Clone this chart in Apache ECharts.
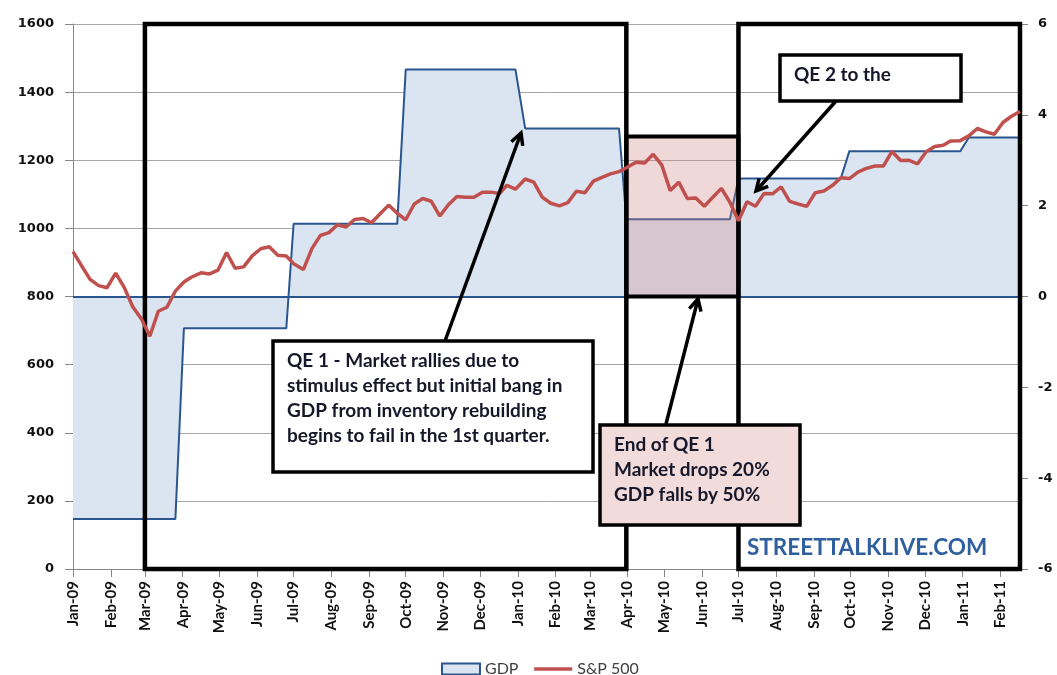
<!DOCTYPE html>
<html>
<head>
<meta charset="utf-8">
<title>GDP vs S&amp;P 500</title>
<script src="https://cdn.jsdelivr.net/npm/echarts@6/dist/echarts.min.js"></script>
<style>
  html, body { margin: 0; padding: 0; background: #fff; }
  #chart { width: 1057px; height: 675px; }
</style>
</head>
<body>
<div id="chart"></div>
<script>
// Weekly closing dates
const weeks = [
  '2009-01-02','2009-01-09','2009-01-16','2009-01-23','2009-01-30',
  '2009-02-06','2009-02-13','2009-02-20','2009-02-27',
  '2009-03-06','2009-03-13','2009-03-20','2009-03-27',
  '2009-04-03','2009-04-09','2009-04-17','2009-04-24',
  '2009-05-01','2009-05-08','2009-05-15','2009-05-22','2009-05-29',
  '2009-06-05','2009-06-12','2009-06-19','2009-06-26',
  '2009-07-02','2009-07-10','2009-07-17','2009-07-24','2009-07-31',
  '2009-08-07','2009-08-14','2009-08-21','2009-08-28',
  '2009-09-04','2009-09-11','2009-09-18','2009-09-25',
  '2009-10-02','2009-10-09','2009-10-16','2009-10-23','2009-10-30',
  '2009-11-06','2009-11-13','2009-11-20','2009-11-27',
  '2009-12-04','2009-12-11','2009-12-18','2009-12-24','2009-12-31',
  '2010-01-08','2010-01-15','2010-01-22','2010-01-29',
  '2010-02-05','2010-02-12','2010-02-19','2010-02-26',
  '2010-03-05','2010-03-12','2010-03-19','2010-03-26',
  '2010-04-01','2010-04-09','2010-04-16','2010-04-23','2010-04-30',
  '2010-05-07','2010-05-14','2010-05-21','2010-05-28',
  '2010-06-04','2010-06-11','2010-06-18','2010-06-25',
  '2010-07-02','2010-07-09','2010-07-16','2010-07-23','2010-07-30',
  '2010-08-06','2010-08-13','2010-08-20','2010-08-27',
  '2010-09-03','2010-09-10','2010-09-17','2010-09-24',
  '2010-10-01','2010-10-08','2010-10-15','2010-10-22','2010-10-29',
  '2010-11-05','2010-11-12','2010-11-19','2010-11-26',
  '2010-12-03','2010-12-10','2010-12-17','2010-12-23','2010-12-31',
  '2011-01-07','2011-01-14','2011-01-21','2011-01-28',
  '2011-02-04','2011-02-11','2011-02-18'
];

// S&P 500 weekly close (left axis)
const spx = [
  931.8, 890.4, 850.1, 832.0, 825.9,
  868.6, 826.8, 770.1, 735.1,
  683.4, 756.6, 768.5, 815.9,
  842.5, 856.6, 869.6, 866.2,
  877.5, 929.2, 882.9, 887.0, 919.1,
  940.1, 946.2, 921.2, 918.9,
  896.4, 879.1, 940.4, 979.3, 987.5,
  1010.5, 1004.1, 1026.1, 1028.9,
  1016.4, 1042.7, 1068.3, 1044.4,
  1025.2, 1071.5, 1087.7, 1079.6, 1036.2,
  1069.3, 1093.5, 1091.4, 1091.5,
  1106.0, 1106.4, 1102.5, 1126.5, 1115.1,
  1145.0, 1136.0, 1091.8, 1073.9,
  1066.2, 1075.5, 1109.2, 1104.5,
  1138.7, 1150.0, 1159.9, 1166.6,
  1178.1, 1194.4, 1192.1, 1217.3, 1186.7,
  1110.9, 1135.7, 1087.7, 1089.4,
  1064.9, 1091.6, 1117.5, 1076.8,
  1022.6, 1078.0, 1064.9, 1102.7, 1101.6,
  1121.6, 1079.3, 1071.7, 1064.6,
  1104.5, 1109.6, 1125.6, 1148.7,
  1146.2, 1165.2, 1176.2, 1183.1, 1183.3,
  1225.9, 1199.2, 1199.7, 1189.4,
  1224.7, 1240.4, 1243.9, 1256.8, 1257.6,
  1271.5, 1293.2, 1283.4, 1276.3,
  1310.9, 1329.2, 1343.0
];

// Real GDP growth, % annualized, latest quarterly print held each week (right axis)
const gdp = [
  -4.9, -4.9, -4.9, -4.9, -4.9,
  -4.9, -4.9, -4.9, -4.9,
  -4.9, -4.9, -4.9, -4.9,
  -0.7, -0.7, -0.7, -0.7,
  -0.7, -0.7, -0.7, -0.7, -0.7,
  -0.7, -0.7, -0.7, -0.7,
  1.6, 1.6, 1.6, 1.6, 1.6,
  1.6, 1.6, 1.6, 1.6,
  1.6, 1.6, 1.6, 1.6,
  5.0, 5.0, 5.0, 5.0, 5.0,
  5.0, 5.0, 5.0, 5.0,
  5.0, 5.0, 5.0, 5.0, 5.0,
  3.7, 3.7, 3.7, 3.7,
  3.7, 3.7, 3.7, 3.7,
  3.7, 3.7, 3.7, 3.7,
  1.7, 1.7, 1.7, 1.7, 1.7,
  1.7, 1.7, 1.7, 1.7,
  1.7, 1.7, 1.7, 1.7,
  2.6, 2.6, 2.6, 2.6, 2.6,
  2.6, 2.6, 2.6, 2.6,
  2.6, 2.6, 2.6, 2.6,
  3.2, 3.2, 3.2, 3.2, 3.2,
  3.2, 3.2, 3.2, 3.2,
  3.2, 3.2, 3.2, 3.2, 3.2,
  3.5, 3.5, 3.5, 3.5,
  3.5, 3.5, 3.5
];

const monthNames = ['Jan','Feb','Mar','Apr','May','Jun','Jul','Aug','Sep','Oct','Nov','Dec'];
const leftTicks = { min: 0, max: 1600, step: 200 };
const rightTicks = { min: -6, max: 6, step: 2 };

// Shaded periods: [start, end, top, bottom] in S&P terms
const qe1Period = ['2009-03-02', '2010-04-01', 1600, 0];
const qe1EndPeriod = ['2010-04-01', '2010-07-02', 1270, 800];
const qe2Period = ['2010-07-02', '2011-02-18', 1600, 0];

// Daily date axis from first to last weekly close
const days = [];
for (let t = Date.UTC(2009, 0, 2); t <= Date.UTC(2011, 1, 18); t += 86400000) {
  days.push(new Date(t).toISOString().slice(0, 10));
}
const isTickDay = (i, v) => v.slice(8) === '02';
const monthLabel = v => monthNames[+v.slice(5, 7) - 1] + '-' + v.slice(2, 4);

const gdpLine = '#2a568f';
const gdpFill = '#dbe5f1';
const spxColor = '#c0504d';
const textColor = '#17172a';
const boxFont = 'bold 19px Lato';

function arrow(x1, y1, x2, y2) {
  const L = Math.hypot(x2 - x1, y2 - y1);
  const bx = (x1 - x2) / L, by = (y1 - y2) / L;
  const head = 13, a = Math.PI / 6.5;
  const rot = s => [x2 + head * (bx * Math.cos(s * a) - by * Math.sin(s * a)),
                    y2 + head * (bx * Math.sin(s * a) + by * Math.cos(s * a))];
  return [
    { type: 'line', z: 120, shape: { x1, y1, x2, y2 }, style: { stroke: '#000', lineWidth: 3.5 } },
    { type: 'polyline', z: 120, shape: { points: [rot(1), [x2, y2], rot(-1)] },
      style: { stroke: '#000', lineWidth: 3.5, fill: null, lineJoin: 'miter' } }
  ];
}

function textBox(x, y, w, h, fill, lines, tx, ty, lh) {
  return [
    { type: 'rect', z: 110, shape: { x, y, width: w, height: h },
      style: { fill, stroke: '#000', lineWidth: 3.5 } },
    { type: 'text', z: 111, x: tx, y: ty,
      style: { text: lines.join('\n'), font: boxFont, fill: textColor, lineHeight: lh, verticalAlign: 'top' } }
  ];
}

const chart = echarts.init(document.getElementById('chart'), null, { renderer: 'canvas' });

chart.setOption({
  animation: false,
  backgroundColor: '#fff',
  grid: { left: 73, right: 37, top: 24, bottom: 106, containLabel: false },
  legend: {
    left: 441, top: 661, padding: 0, itemGap: 14,
    itemWidth: 38, itemHeight: 11,
    textStyle: { fontFamily: 'Lato', fontSize: 16, color: '#404040' },
    data: [
      { name: 'GDP', icon: 'rect', itemStyle: { color: gdpFill, borderColor: gdpLine, borderWidth: 2 } },
      { name: 'S&P 500', itemStyle: { color: 'rgba(0,0,0,0)', borderColor: 'rgba(0,0,0,0)', borderWidth: 0 },
        lineStyle: { color: spxColor, width: 3.5 } }
    ]
  },
  xAxis: {
    type: 'category',
    data: days,
    boundaryGap: false,
    axisLine: { lineStyle: { color: '#868686', width: 1 } },
    axisTick: { interval: isTickDay, length: 8, lineStyle: { color: '#868686' } },
    axisLabel: {
      interval: isTickDay, formatter: monthLabel, rotate: 90, margin: 12,
      fontFamily: 'Lato', fontWeight: 'bold', fontSize: 15, color: '#111'
    },
    splitLine: { show: false }
  },
  yAxis: [
    {
      type: 'value', min: leftTicks.min, max: leftTicks.max, interval: leftTicks.step,
      axisLine: { show: true, lineStyle: { color: '#868686' } },
      axisTick: { show: true, length: 8, lineStyle: { color: '#868686' } },
      axisLabel: { margin: 19, formatter: v => String(v),
        fontFamily: 'DejaVu Sans', fontWeight: 'bold', fontSize: 13, color: '#111' },
      splitLine: { show: true, lineStyle: { color: '#a6a6a6', width: 1 } }
    },
    {
      type: 'value', min: rightTicks.min, max: rightTicks.max, interval: rightTicks.step,
      position: 'right',
      axisLine: { show: true, lineStyle: { color: '#868686' } },
      axisTick: { show: true, length: 8, lineStyle: { color: '#868686' } },
      axisLabel: { margin: 18, formatter: v => String(v),
        fontFamily: 'DejaVu Sans', fontWeight: 'bold', fontSize: 13, color: '#111' },
      splitLine: { show: false }
    }
  ],
  series: [
    {
      name: 'GDP',
      type: 'line',
      yAxisIndex: 1,
      z: 1,
      symbol: 'none',
      data: weeks.map((d, i) => [d, gdp[i]]),
      lineStyle: { color: gdpLine, width: 2 },
      itemStyle: { color: gdpLine },
      areaStyle: { color: gdpFill, opacity: 1 },
      markLine: {
        z: 1.5, silent: true, symbol: 'none', label: { show: false },
        lineStyle: { color: gdpLine, width: 2, type: 'solid' },
        data: [{ yAxis: 0 }]
      }
    },
    {
      name: 'S&P 500',
      type: 'line',
      yAxisIndex: 0,
      z: 3,
      clip: false,
      symbol: 'none',
      data: weeks.map((d, i) => [d, spx[i]]),
      lineStyle: { color: spxColor, width: 3.5 },
      itemStyle: { color: spxColor },
      markArea: {
        z: 2, silent: true, label: { show: false },
        data: [
          [{ xAxis: qe1EndPeriod[0], yAxis: qe1EndPeriod[2],
             itemStyle: { color: 'rgba(206,128,128,0.31)', borderColor: '#000', borderWidth: 4 } },
           { xAxis: qe1EndPeriod[1], yAxis: qe1EndPeriod[3] }],
          [{ xAxis: qe1Period[0], yAxis: qe1Period[2],
             itemStyle: { color: 'rgba(0,0,0,0)', borderColor: '#000', borderWidth: 4.5 } },
           { xAxis: qe1Period[1], yAxis: qe1Period[3] }],
          [{ xAxis: qe2Period[0], yAxis: qe2Period[2],
             itemStyle: { color: 'rgba(0,0,0,0)', borderColor: '#000', borderWidth: 4.5 } },
           { xAxis: qe2Period[1], yAxis: qe2Period[3] }]
        ]
      }
    }
  ],
  graphic: [
    ...arrow(445, 341, 521, 133),
    ...arrow(666, 424, 698, 299),
    ...arrow(836, 101, 756, 191),
    ...textBox(273, 341, 320, 131, '#fff',
      ['QE 1 - Market rallies due to',
       'stimulus effect but initial bang in',
       'GDP from inventory rebuilding',
       'begins to fail in the 1st quarter.'], 287, 349, 24.7),
    ...textBox(600, 425, 200, 100, '#f2dcdb',
      ['End of QE 1', 'Market drops 20%', 'GDP falls by 50%'], 614, 432.5, 25),
    ...textBox(780, 55, 181, 46, '#fff', ['QE 2 to the'], 794, 63, 24),
    { type: 'text', z: 105, x: 747, y: 548,
      style: { text: 'STREETTALKLIVE.COM', font: 'bold 22.5px Lato', fill: '#2f5f9e', verticalAlign: 'middle' } }
  ]
});
</script>
</body>
</html>
